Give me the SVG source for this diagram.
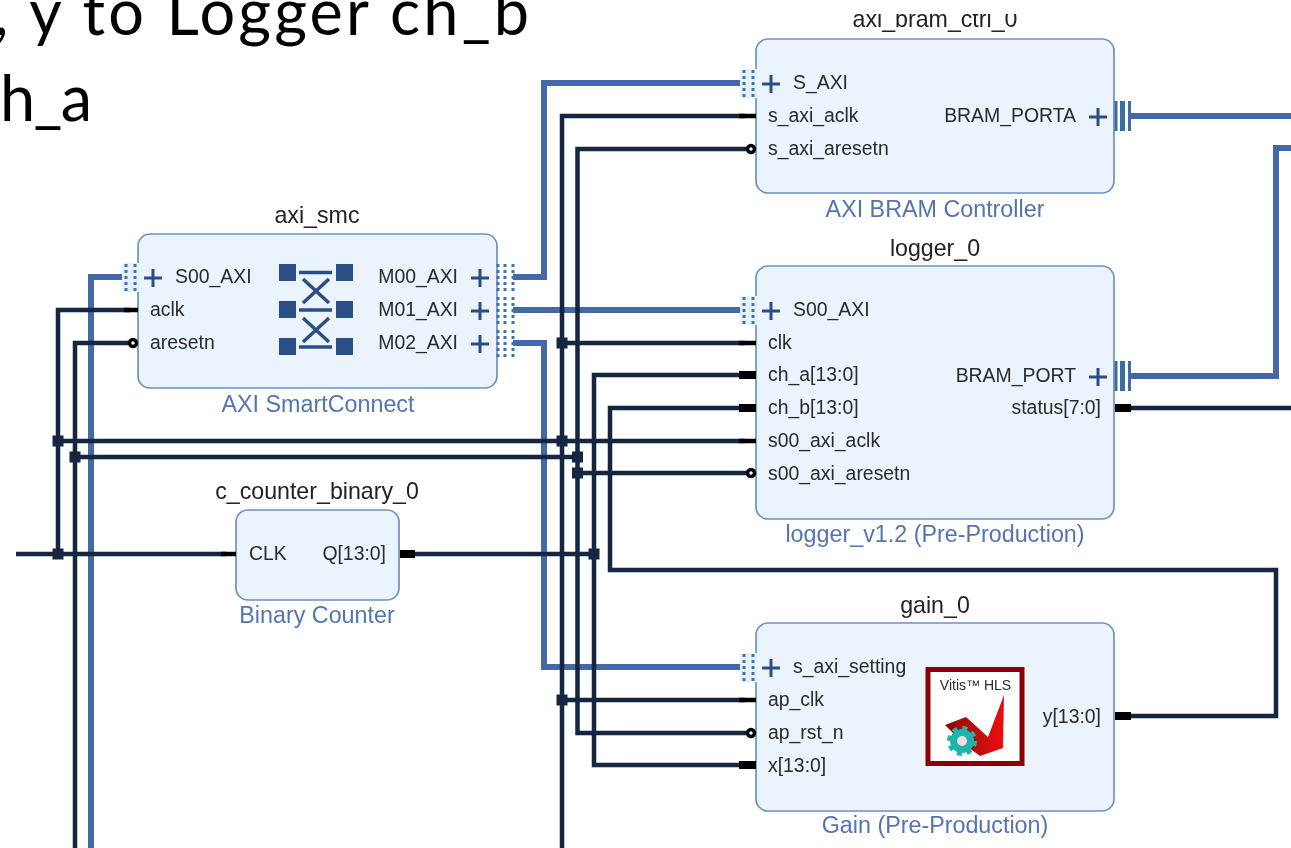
<svg xmlns="http://www.w3.org/2000/svg" width="1291" height="848" viewBox="0 0 1291 848">
<style>
text{font-family:"Liberation Sans",Arial,sans-serif;fill:#2a2a2a}
.p{font-size:19.4px}
.e{text-anchor:end}
.n{font-size:23.200px;text-anchor:middle;fill:#222}
.f{font-size:23.300px;text-anchor:middle;fill:#5474b0}
.b{fill:#ebf3fd;stroke:#7090c4;stroke-width:1.700}
.w{fill:none;stroke:#12263f;stroke-width:4.500}
.i{fill:none;stroke:#4468a8;stroke-width:6}
.s{stroke:#000;stroke-width:4.500}
.t{stroke:#000;stroke-width:8}
.d{fill:#12263f}
.ic{fill:#2c4f86}
.il{stroke:#2c4f86;stroke-width:3.500;fill:none}
.plus{stroke:#2c4f86;stroke-width:3;fill:none}
.dot{stroke:#3a74ae;stroke-width:3;stroke-dasharray:3 3;fill:none}
.bar{stroke:#3a6ea5;fill:none}
.r{fill:#fff;stroke:#000;stroke-width:3.500}
.big{font-family:Lato,"Liberation Sans",sans-serif;font-size:63px;fill:#000}
</style>
<defs>
<filter id="soft" x="0" y="0" width="100%" height="100%"><feGaussianBlur stdDeviation="0.7"/></filter>
<path id="pl" class="plus" d="M-9 0H9M0-9V9"/>
<g id="ifl"><rect x="-4" y="-14" width="17" height="29" fill="#e6f0fb"/><path class="dot" d="M0-13V15M9-13V15"/></g>
<g id="ifr"><path class="dot" d="M0-13V15M7-13V15M15-13V15"/></g>
<g id="busr"><path class="bar" stroke-width="3" d="M1116-15V15"/><path class="bar" stroke-width="5" d="M1122.500-15V15"/><path class="bar" stroke-width="3" d="M1129.500-15V15"/></g>
<linearGradient id="red" x1="0" x2="1" y1="0" y2="0"><stop offset="0" stop-color="#8a0505"/><stop offset="1" stop-color="#ec0f0f"/></linearGradient>
</defs>
<rect width="1291" height="848" fill="#fff"/>
<g filter="url(#soft)">
<g id="heading">
<text class="big" x="-6" y="35" textLength="535" lengthAdjust="spacing">, y to Logger ch_b</text>
<text class="big" x="0" y="121" textLength="92" lengthAdjust="spacing">h_a</text>
</g>
<g id="connectors">
<path class="i" d="M125 277H91V848"/>
<path class="i" d="M513 277H544V83H742"/>
<path class="i" d="M513 310H742"/>
<path class="i" d="M513 343H544V667H742"/>
<path class="i" d="M1130 116H1291"/>
<path class="i" d="M1130 376H1276V148H1291"/>
<path class="w" d="M745 116H562V848"/>
<path class="w" d="M748 149H577.500V733H748"/>
<path class="w" d="M130 310H58V554"/>
<path class="w" d="M130 343H75V848"/>
<path class="w" d="M16 554H226"/>
<path class="w" d="M58 441H745"/>
<path class="w" d="M75 457H578"/>
<path class="w" d="M578 473H748"/>
<path class="w" d="M410 554H594"/>
<path class="w" d="M745 375H594V765H745"/>
<path class="w" d="M745 408H610V570H1276V716H1125"/>
<path class="w" d="M1125 408H1291"/>
<path class="w" d="M562 343H745"/>
<path class="w" d="M562 700H745"/>
<g class="d">
<rect x="52.500" y="435.500" width="11" height="11"/>
<rect x="69.500" y="451.500" width="11" height="11"/>
<rect x="52.500" y="548.500" width="11" height="11"/>
<rect x="556.500" y="337.500" width="11" height="11"/>
<rect x="556.500" y="435.500" width="11" height="11"/>
<rect x="572" y="451.500" width="11" height="11"/>
<rect x="572" y="467.500" width="11" height="11"/>
<rect x="588.500" y="548.500" width="11" height="11"/>
<rect x="556.500" y="694.500" width="11" height="11"/>
</g>
</g>
<g id="axi_smc">
<text class="n" x="317" y="223">axi_smc</text>
<rect class="b" x="138" y="234" width="359" height="154" rx="12"/>
<use href="#ifl" x="126" y="277"/><use href="#ifr" x="498" y="277"/><use href="#ifr" x="498" y="310"/><use href="#ifr" x="498" y="343"/>
<line class="s" x1="124" y1="310" x2="138" y2="310"/>
<circle class="r" cx="133" cy="343" r="3.500"/>
<use href="#pl" x="153" y="278"/><use href="#pl" x="480" y="278"/><use href="#pl" x="480" y="311"/><use href="#pl" x="480" y="344"/>
<text class="p" x="175" y="283">S00_AXI</text><text class="p" x="150" y="316">aclk</text><text class="p" x="150" y="349">aresetn</text>
<text class="p e" x="458" y="283">M00_AXI</text><text class="p e" x="458" y="316">M01_AXI</text><text class="p e" x="458" y="349">M02_AXI</text>
<g class="ic"><rect x="279" y="264" width="17" height="17"/><rect x="279" y="301" width="17" height="17"/><rect x="279" y="338" width="17" height="17"/><rect x="336" y="264" width="17" height="17"/><rect x="336" y="301" width="17" height="17"/><rect x="336" y="338" width="17" height="17"/></g>
<path class="il" d="M299 272.500H332M299 310H332M299 347H332M303 279L329 303M329 279L303 303M303 318L329 342M329 318L303 342"/>
<text class="f" x="318" y="412">AXI SmartConnect</text>
</g>
<g id="c_counter_binary_0">
<text class="n" x="317" y="499">c_counter_binary_0</text>
<rect class="b" x="236" y="510" width="163" height="90" rx="12"/>
<line class="s" x1="221" y1="554" x2="236" y2="554"/>
<line class="t" x1="400" y1="554" x2="415" y2="554"/>
<text class="p" x="249" y="560">CLK</text><text class="p e" x="386" y="560">Q[13:0]</text>
<text class="f" x="317" y="623">Binary Counter</text>
</g>
<g id="axi_bram_ctrl_0">
<text class="n" x="935" y="27">axi_bram_ctrl_0</text>
<rect x="840" y="0" width="190" height="14" fill="#fff"/>
<rect class="b" x="756" y="39" width="358" height="154" rx="12"/>
<use href="#ifl" x="744" y="83"/>
<line class="s" x1="739" y1="116" x2="756" y2="116"/>
<circle class="r" cx="751" cy="149" r="3.500"/>
<use href="#pl" x="771" y="84"/><use href="#pl" x="1098" y="117"/><use href="#busr" y="116"/>
<text class="p" x="793" y="89">S_AXI</text><text class="p" x="768" y="122">s_axi_aclk</text><text class="p" x="768" y="155">s_axi_aresetn</text>
<text class="p e" x="1076" y="122">BRAM_PORTA</text>
<text class="f" x="935" y="217">AXI BRAM Controller</text>
</g>
<g id="logger_0">
<text class="n" x="935" y="256">logger_0</text>
<rect class="b" x="756" y="266" width="358" height="253" rx="12"/>
<use href="#ifl" x="744" y="310"/>
<line class="s" x1="739" y1="343" x2="756" y2="343"/>
<line class="t" x1="739" y1="375" x2="756" y2="375"/>
<line class="t" x1="739" y1="408" x2="756" y2="408"/>
<line class="s" x1="739" y1="441" x2="756" y2="441"/>
<circle class="r" cx="751" cy="473" r="3.500"/>
<line class="t" x1="1115" y1="408" x2="1131" y2="408"/>
<use href="#pl" x="771" y="311"/><use href="#pl" x="1098" y="377"/><use href="#busr" y="376"/>
<text class="p" x="793" y="316">S00_AXI</text><text class="p" x="768" y="349">clk</text><text class="p" x="768" y="381">ch_a[13:0]</text><text class="p" x="768" y="414">ch_b[13:0]</text><text class="p" x="768" y="447">s00_axi_aclk</text><text class="p" x="768" y="480">s00_axi_aresetn</text>
<text class="p e" x="1076" y="382">BRAM_PORT</text><text class="p e" x="1101" y="414">status[7:0]</text>
<text class="f" x="935" y="542">logger_v1.2 (Pre-Production)</text>
</g>
<g id="gain_0">
<text class="n" x="935" y="613">gain_0</text>
<rect class="b" x="756" y="623" width="358" height="188" rx="12"/>
<use href="#ifl" x="744" y="667"/>
<line class="s" x1="739" y1="700" x2="756" y2="700"/>
<circle class="r" cx="751" cy="733" r="3.500"/>
<line class="t" x1="739" y1="765" x2="756" y2="765"/>
<line class="t" x1="1115" y1="716" x2="1131" y2="716"/>
<use href="#pl" x="771" y="668"/>
<text class="p" x="793" y="673">s_axi_setting</text><text class="p" x="768" y="706">ap_clk</text><text class="p" x="768" y="739">ap_rst_n</text><text class="p" x="768" y="772">x[13:0]</text>
<text class="p e" x="1101" y="723">y[13:0]</text>
<rect x="928" y="669.500" width="94" height="94" fill="#fff" stroke="#8b0606" stroke-width="5"/>
<text x="975.500" y="690" font-size="14" text-anchor="middle">Vitis™ HLS</text>
<polygon points="945,725 966,717 988,737 1004,695 1003,748 980,756 965,745" fill="url(#red)"/>
<circle cx="962" cy="741" r="8.500" fill="#f6dede" stroke="#1fb5ad" stroke-width="7"/>
<circle cx="962" cy="741" r="13" fill="none" stroke="#1fb5ad" stroke-width="4" stroke-dasharray="5.100 5.100"/>
<text class="f" x="935" y="833">Gain (Pre-Production)</text>
</g>
</g>
</svg>
